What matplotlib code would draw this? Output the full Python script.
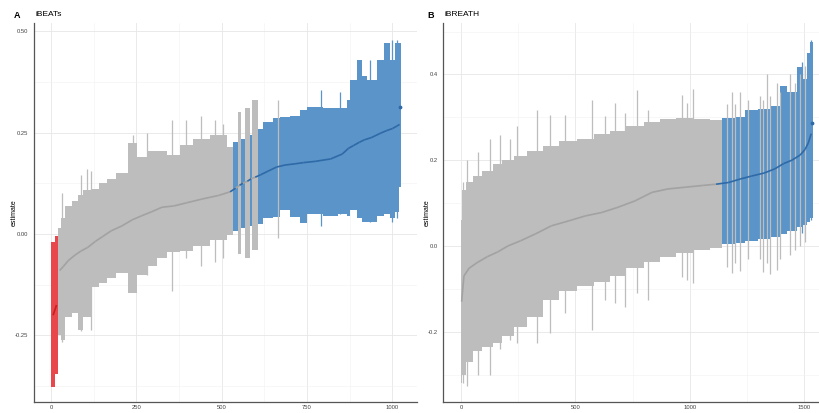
import matplotlib
matplotlib.use("Agg")
import matplotlib.pyplot as plt
from matplotlib.collections import LineCollection
from matplotlib.ticker import MultipleLocator

plt.rcParams.update({
    "font.family": ["Liberation Sans", "DejaVu Sans"],
})

# ------------------------------------------------------------------
# data (blocks of ranked estimates + CIs)
# ------------------------------------------------------------------
# Panel A - iBEATs
a_edges = [0, 12, 20, 30, 42, 60, 80, 95, 120, 140, 163, 190, 225, 251, 280,
           310, 340, 378, 417, 466, 515, 534, 548, 556, 568, 582, 590, 606,
           622, 650, 671, 700, 730, 750, 798, 840, 866, 876, 896, 910, 925,
           954, 974, 993, 1008, 1018, 1024]
a_est = [-0.200, -0.175, -0.090, -0.080, -0.065, -0.052, -0.042, -0.033,
         -0.018, -0.006, 0.008, 0.020, 0.035, 0.045, 0.055, 0.066, 0.069,
         0.077, 0.086, 0.095, 0.104, 0.113, 0.120, 0.125, 0.130, 0.136,
         0.140, 0.146, 0.155, 0.165, 0.170, 0.173, 0.176, 0.179, 0.185,
         0.197, 0.211, 0.218, 0.226, 0.232, 0.238, 0.248, 0.255, 0.260,
         0.266, 0.270]
a_lo = [-0.378, -0.345, -0.250, -0.260, -0.205, -0.195, -0.236, -0.205,
        -0.130, -0.120, -0.108, -0.095, -0.146, -0.100, -0.080, -0.060,
        -0.045, -0.042, -0.030, -0.015, -0.002, 0.008, -0.050, 0.015,
        -0.060, 0.020, -0.040, 0.025, 0.040, 0.042, 0.059, 0.043, 0.026,
        0.050, 0.045, 0.050, 0.045, 0.060, 0.040, 0.030, 0.030, 0.045,
        0.050, 0.040, 0.055, 0.116]
a_hi = [-0.020, -0.005, 0.015, 0.040, 0.070, 0.082, 0.095, 0.108, 0.112,
        0.125, 0.135, 0.150, 0.224, 0.190, 0.205, 0.205, 0.195, 0.220,
        0.235, 0.245, 0.215, 0.227, 0.300, 0.235, 0.310, 0.245, 0.330,
        0.260, 0.277, 0.285, 0.289, 0.290, 0.305, 0.313, 0.310, 0.310,
        0.330, 0.379, 0.429, 0.390, 0.380, 0.430, 0.470, 0.430, 0.470,
        0.470]
a_group = ["neg", "neg"] + ["ns"] * 19 + ["pos", "ns", "pos", "ns", "pos",
                                          "ns", "pos"] + ["pos"] * 18
a_spike_rank = [33, 88, 104, 118, 240, 280, 355, 395, 440, 480, 505, 666,
                790, 845, 935, 1000, 1012]
a_spike_lo = [-0.265, -0.240, -0.200, -0.236, -0.090, -0.100, -0.140, -0.060,
              -0.080, -0.070, -0.060, -0.010, 0.020, 0.050, 0.030, 0.030,
              0.040]
a_spike_hi = [0.100, 0.145, 0.160, 0.155, 0.245, 0.250, 0.280, 0.280, 0.290,
              0.280, 0.270, 0.330, 0.354, 0.350, 0.430, 0.478, 0.478]
a_spike_group = ["ns"] * 12 + ["pos"] * 5
a_last_rank, a_last_est = 1022, 0.314

# Panel B - iBREATH
b_edges = [0, 5, 20, 50, 90, 140, 180, 230, 290, 360, 430, 506, 580, 650,
           720, 800, 870, 940, 1020, 1090, 1140, 1200, 1240, 1300, 1350,
           1395, 1425, 1468, 1497, 1511, 1525, 1537]
b_est = [-0.130, -0.070, -0.052, -0.039, -0.025, -0.014, 0.000, 0.012, 0.028,
         0.047, 0.058, 0.070, 0.078, 0.090, 0.105, 0.125, 0.133, 0.137,
         0.141, 0.144, 0.148, 0.156, 0.163, 0.170, 0.180, 0.192, 0.200,
         0.212, 0.225, 0.240, 0.262]
b_lo = [-0.320, -0.300, -0.270, -0.245, -0.235, -0.226, -0.210, -0.190,
        -0.165, -0.125, -0.105, -0.093, -0.085, -0.070, -0.052, -0.038,
        -0.025, -0.016, -0.010, -0.004, 0.005, 0.008, 0.012, 0.016, 0.020,
        0.028, 0.035, 0.045, 0.048, 0.055, 0.065]
b_hi = [0.060, 0.130, 0.150, 0.162, 0.175, 0.190, 0.200, 0.210, 0.222,
        0.232, 0.245, 0.250, 0.260, 0.268, 0.280, 0.290, 0.297, 0.298,
        0.297, 0.294, 0.298, 0.300, 0.317, 0.320, 0.326, 0.372, 0.360,
        0.418, 0.390, 0.450, 0.475]
b_group = ["ns"] * 20 + ["pos"] * 11
b_spike_rank = [7, 25, 73, 126, 170, 214, 243, 330, 389, 455, 572, 629, 673,
                717, 768, 819, 965, 987, 1016, 1161, 1184, 1197, 1220, 1256,
                1307, 1322, 1337, 1352, 1381, 1394, 1439, 1460, 1482, 1504,
                1490, 1530]
b_spike_lo = [-0.319, -0.327, -0.300, -0.300, -0.240, -0.220, -0.226, -0.226,
              -0.202, -0.157, -0.195, -0.126, -0.132, -0.142, -0.110, -0.126,
              -0.072, -0.080, -0.086, -0.050, -0.063, -0.040, -0.058, -0.030,
              -0.030, -0.060, -0.040, -0.065, -0.055, -0.030, -0.020, -0.010,
              0.000, 0.010, 0.030, 0.060]
b_spike_hi = [0.150, 0.200, 0.220, 0.250, 0.258, 0.250, 0.280, 0.317, 0.305,
              0.305, 0.341, 0.302, 0.333, 0.310, 0.364, 0.317, 0.352, 0.333,
              0.367, 0.330, 0.360, 0.330, 0.360, 0.340, 0.350, 0.340, 0.400,
              0.350, 0.380, 0.360, 0.400, 0.380, 0.400, 0.420, 0.430, 0.480]
b_spike_group = ["ns"] * 34 + ["pos"] * 2
b_last_rank, b_last_est = 1535, 0.286

BAR_COL = {"neg": "#e8474b", "ns": "#bdbdbd", "pos": "#5b94c8"}
EST_COL = {"neg": "#c81e1e", "ns": "#a2a2a2", "pos": "#2f6aa8"}


def draw_panel(ax, edges, est, lo, hi, group, s_rank, s_lo, s_hi, s_group,
               last_rank, last_est):
    starts = edges[:-1]
    widths = [e1 - e0 for e0, e1 in zip(edges[:-1], edges[1:])]
    mids = [(e0 + e1) / 2 for e0, e1 in zip(edges[:-1], edges[1:])]
    ax.bar(starts, [h - l for h, l in zip(hi, lo)], bottom=lo, width=widths,
           align="edge", color=[BAR_COL[g] for g in group], linewidth=0,
           zorder=2)
    ax.vlines(s_rank, s_lo, s_hi, colors=[BAR_COL[g] for g in s_group],
              linewidth=0.9, zorder=3)
    segs, cols = [], []
    for i in range(1, len(mids)):
        if (group[i] == "neg") != (group[i - 1] == "neg"):
            continue
        segs.append([(mids[i - 1], est[i - 1]), (mids[i], est[i])])
        cols.append(EST_COL[group[i]])
    ax.add_collection(LineCollection(segs, colors=cols, linewidths=1.2,
                                     zorder=4))
    ax.scatter([last_rank], [last_est], s=3, color=EST_COL["pos"], zorder=5)


def style(ax):
    ax.set_facecolor("white")
    ax.grid(True, which="major", color="#e6e6e6", linewidth=0.6, zorder=0)
    ax.grid(True, which="minor", color="#f2f2f2", linewidth=0.4, zorder=0)
    for s in ["top", "right"]:
        ax.spines[s].set_visible(False)
    for s in ["left", "bottom"]:
        ax.spines[s].set_color("#555555")
        ax.spines[s].set_linewidth(0.9)
    ax.tick_params(which="both", length=0, labelsize=4.2, colors="#444444")
    ax.tick_params(axis="x", pad=2)
    ax.tick_params(axis="y", pad=4)
    ax.set_axisbelow(True)


fig = plt.figure(figsize=(8.19, 4.13), dpi=100)

axA = fig.add_axes([34 / 819, 1 - 402 / 413, (417 - 34) / 819, (402 - 23) / 413])
draw_panel(axA, a_edges, a_est, a_lo, a_hi, a_group, a_spike_rank, a_spike_lo,
           a_spike_hi, a_spike_group, a_last_rank, a_last_est)
style(axA)
axA.set_xlim(-50, 1072)
axA.set_ylim(-0.414, 0.52)
axA.xaxis.set_major_locator(MultipleLocator(250))
axA.xaxis.set_minor_locator(MultipleLocator(125))
axA.yaxis.set_major_locator(MultipleLocator(0.25))
axA.yaxis.set_minor_locator(MultipleLocator(0.125))
axA.set_yticks([-0.25, 0.0, 0.25, 0.5], ["-0.25", "0.00", "0.25", "0.50"])

axB = fig.add_axes([443 / 819, 1 - 402 / 413, (819 - 443) / 819, (402 - 23) / 413])
draw_panel(axB, b_edges, b_est, b_lo, b_hi, b_group, b_spike_rank, b_spike_lo,
           b_spike_hi, b_spike_group, b_last_rank, b_last_est)
style(axB)
axB.set_xlim(-79, 1565)
axB.set_ylim(-0.364, 0.52)
axB.xaxis.set_major_locator(MultipleLocator(500))
axB.xaxis.set_minor_locator(MultipleLocator(250))
axB.yaxis.set_major_locator(MultipleLocator(0.2))
axB.yaxis.set_minor_locator(MultipleLocator(0.1))
axB.set_yticks([-0.2, 0.0, 0.2, 0.4], ["-0.2", "0.0", "0.2", "0.4"])

fig.text(14 / 819, 1 - 15 / 413, "A", fontsize=6.5, fontweight="bold",
         va="center", ha="left")
fig.text(35 / 819, 1 - 15 / 413, "iBEATs", fontsize=6, va="center", ha="left")
fig.text(427 / 819, 1 - 15 / 413, "B", fontsize=6.5, fontweight="bold",
         va="center", ha="left")
fig.text(445 / 819, 1 - 15 / 413, "iBREATH", fontsize=6, va="center",
         ha="left")
fig.text(14 / 819, 1 - 213 / 413, "estimate", fontsize=5, rotation=90,
         va="center", ha="center")
fig.text(427 / 819, 1 - 213 / 413, "estimate", fontsize=5, rotation=90,
         va="center", ha="center")

fig.savefig("out.png", dpi=100)
